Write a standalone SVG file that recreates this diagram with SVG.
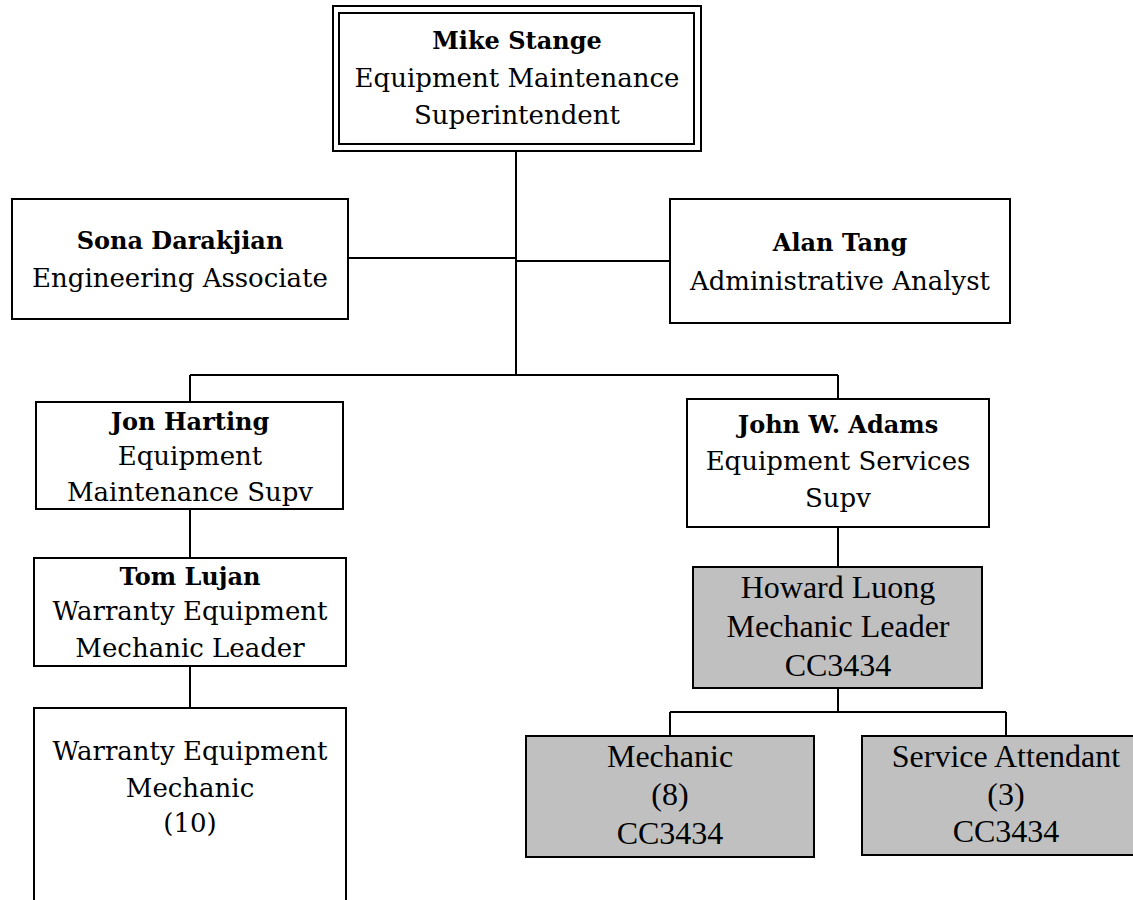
<svg xmlns="http://www.w3.org/2000/svg" width="1133" height="900" viewBox="0 0 1133 900">
<style>
.box{fill:#ffffff;stroke:#000000;stroke-width:2}
.gbox{fill:#c0c0c0;stroke:#000000;stroke-width:2}
.t{font-family:"DejaVu Serif","Liberation Serif",serif;font-size:26px;fill:#000;text-anchor:middle}
.b{font-weight:bold;font-size:24px}
.g{font-family:"Liberation Serif","DejaVu Serif",serif;font-size:32px;fill:#000;text-anchor:middle}
.c{fill:none;stroke:#000;stroke-width:2}
</style>
<rect width="1133" height="900" fill="#ffffff"/>
<g id="connectors">
<path class="c" d="M516 151V376"/>
<path class="c" d="M348 258H516"/>
<path class="c" d="M516 261H670"/>
<path class="c" d="M190 375H838"/>
<path class="c" d="M190 375V402"/>
<path class="c" d="M838 375V399"/>
<path class="c" d="M190 509V558"/>
<path class="c" d="M190 666V708"/>
<path class="c" d="M838 527V567"/>
<path class="c" d="M838 688V712"/>
<path class="c" d="M670 712H1006"/>
<path class="c" d="M670 712V736"/>
<path class="c" d="M1006 712V736"/>
</g>
<g id="mike">
<rect class="box" x="333" y="6" width="368" height="145"/>
<rect class="box" x="339" y="13" width="355" height="131"/>
<text class="t b" x="517" y="49">Mike Stange</text>
<text class="t" x="517" y="87">Equipment Maintenance</text>
<text class="t" x="517" y="124">Superintendent</text>
</g>
<g id="sona">
<rect class="box" x="12" y="199" width="336" height="120"/>
<text class="t b" x="180" y="249">Sona Darakjian</text>
<text class="t" x="180" y="287">Engineering Associate</text>
</g>
<g id="alan">
<rect class="box" x="670" y="199" width="340" height="124"/>
<text class="t b" x="840" y="251">Alan Tang</text>
<text class="t" x="840" y="290">Administrative Analyst</text>
</g>
<g id="jon">
<rect class="box" x="36" y="402" width="307" height="107"/>
<text class="t b" x="190" y="430">Jon Harting</text>
<text class="t" x="190" y="465">Equipment</text>
<text class="t" x="190" y="501">Maintenance Supv</text>
</g>
<g id="john">
<rect class="box" x="687" y="399" width="302" height="128"/>
<text class="t b" x="838" y="433">John W. Adams</text>
<text class="t" x="838" y="470">Equipment Services</text>
<text class="t" x="838" y="507">Supv</text>
</g>
<g id="tom">
<rect class="box" x="34" y="558" width="312" height="108"/>
<text class="t b" x="190" y="585">Tom Lujan</text>
<text class="t" x="190" y="620">Warranty Equipment</text>
<text class="t" x="190" y="657">Mechanic Leader</text>
</g>
<g id="warranty">
<rect class="box" x="34" y="708" width="312" height="210"/>
<text class="t" x="190" y="760">Warranty Equipment</text>
<text class="t" x="190" y="797">Mechanic</text>
<text class="t" x="190" y="832">(10)</text>
</g>
<g id="howard">
<rect class="gbox" x="693" y="567" width="289" height="121"/>
<text class="g" x="838" y="598">Howard Luong</text>
<text class="g" x="838" y="637">Mechanic Leader</text>
<text class="g" x="838" y="676">CC3434</text>
</g>
<g id="mechanic">
<rect class="gbox" x="526" y="736" width="288" height="121"/>
<text class="g" x="670" y="767">Mechanic</text>
<text class="g" x="670" y="805">(8)</text>
<text class="g" x="670" y="844">CC3434</text>
</g>
<g id="service">
<rect class="gbox" x="862" y="736" width="300" height="119"/>
<text class="g" x="1006" y="767">Service Attendant</text>
<text class="g" x="1006" y="805">(3)</text>
<text class="g" x="1006" y="842">CC3434</text>
</g>
</svg>
